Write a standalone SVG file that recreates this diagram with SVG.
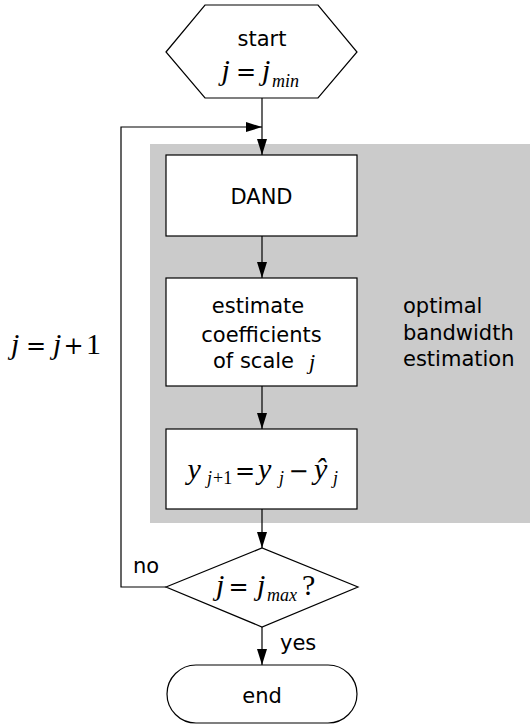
<svg xmlns="http://www.w3.org/2000/svg" width="530" height="726" viewBox="0 0 530 726">
<style>
.box{fill:#fff;stroke:#000;stroke-width:1.2}
.t{font-family:"DejaVu Sans",sans-serif;font-size:21px;fill:#000}
.m{font-family:"Liberation Serif","Times New Roman",serif;font-size:30px;font-style:italic;fill:#000}
.s{font-family:"Liberation Serif","Times New Roman",serif;font-size:18px;font-style:italic;fill:#000}
.n{font-family:"Liberation Serif","Times New Roman",serif;font-size:30px;fill:#000}
.op{font-family:"DejaVu Serif",serif;font-size:24px;fill:#000;text-anchor:middle}
.c{fill:none;stroke:#000;stroke-width:1.2}
</style>
<defs>
<marker id="ah" markerWidth="16" markerHeight="10" refX="16" refY="5" orient="auto" markerUnits="userSpaceOnUse">
<path d="M0,0 L16,5 L0,10 Z" fill="#000"/>
</marker>
</defs>
<rect id="group-bg" x="150" y="144" width="380" height="379" fill="#cbcbcb"/>
<g id="group-label">
<text class="t" x="403" y="313">optimal</text>
<text class="t" x="403" y="339.5">bandwidth</text>
<text class="t" x="403" y="366">estimation</text>
</g>
<g id="connectors">
<line class="c" x1="262" y1="98" x2="262" y2="155" marker-end="url(#ah)"/>
<polyline class="c" points="166,587 121,587 121,127 262,127" marker-end="url(#ah)"/>
<line class="c" x1="262" y1="236" x2="262" y2="278" marker-end="url(#ah)"/>
<line class="c" x1="262" y1="386" x2="262" y2="429" marker-end="url(#ah)"/>
<line class="c" x1="262" y1="509" x2="262" y2="548" marker-end="url(#ah)"/>
<line class="c" x1="262" y1="627" x2="262" y2="665" marker-end="url(#ah)"/>
<text class="t" x="133" y="573">no</text>
<text class="t" x="280" y="650">yes</text>
<g id="loop-label">
<text class="m" x="11" y="354">j</text>
<text class="op" x="36" y="354">=</text>
<text class="m" x="53" y="354">j</text>
<text class="op" x="73.5" y="354">+</text>
<text class="n" x="86" y="354">1</text>
</g>
</g>
<g id="start">
<polygon class="box" points="166,52 205,5 318,5 357,52 318,98 205,98"/>
<text class="t" x="262" y="46" text-anchor="middle">start</text>
<text class="m" x="221.5" y="80">j</text>
<text class="op" x="246" y="80">=</text>
<text class="m" x="262" y="80">j</text>
<text class="s" x="272" y="87">min</text>
</g>
<g id="dand">
<rect class="box" x="166" y="155" width="191" height="81"/>
<text class="t" x="261.5" y="204" text-anchor="middle">DAND</text>
</g>
<g id="estimate">
<rect class="box" x="166" y="278" width="191" height="108"/>
<text class="t" x="258" y="313" text-anchor="middle">estimate</text>
<text class="t" x="261.5" y="342" text-anchor="middle">coefficients</text>
<text class="t" x="213" y="368">of scale</text>
<text class="m" x="309" y="369" style="font-size:22px">j</text>
</g>
<g id="update">
<rect class="box" x="166" y="429" width="191" height="80"/>
<text class="m" x="187.5" y="479">y</text>
<text class="s" x="207" y="484">j</text>
<text class="s" x="213" y="484" style="font-style:normal">+1</text>
<text class="op" x="245" y="479">=</text>
<text class="m" x="258" y="479">y</text>
<text class="s" x="279" y="484">j</text>
<text class="op" x="298.5" y="479">−</text>
<text class="m" x="314" y="479">ŷ</text>
<text class="s" x="333" y="484">j</text>
</g>
<g id="decision">
<polygon class="box" points="166,587 262,548 358,587 262,627"/>
<text class="m" x="216" y="595">j</text>
<text class="op" x="238.5" y="595">=</text>
<text class="m" x="257" y="595">j</text>
<text class="s" x="267" y="601">max</text>
<text class="n" x="302" y="595">?</text>
</g>
<g id="end">
<rect class="box" x="167" y="665" width="190" height="58" rx="29" ry="29"/>
<text class="t" x="262" y="703" text-anchor="middle">end</text>
</g>
</svg>
